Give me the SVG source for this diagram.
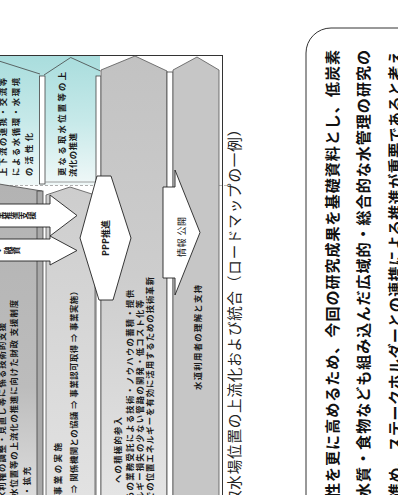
<svg xmlns="http://www.w3.org/2000/svg" width="398" height="495" viewBox="0 0 398 495">
<defs>
<linearGradient id="gTeal" gradientUnits="userSpaceOnUse" x1="0" y1="56" x2="0" y2="185">
<stop offset="0" stop-color="#a9dddd"/>
<stop offset="0.5" stop-color="#c6e9e9"/>
<stop offset="1" stop-color="#f0f8f8"/>
</linearGradient>
<linearGradient id="gCol1" gradientUnits="userSpaceOnUse" x1="0" y1="185" x2="0" y2="495">
<stop offset="0" stop-color="#b3b3b3"/>
<stop offset="0.65" stop-color="#bcbcbc"/>
<stop offset="1" stop-color="#dcdcdc"/>
</linearGradient>
<linearGradient id="gCol2" gradientUnits="userSpaceOnUse" x1="0" y1="187" x2="0" y2="495">
<stop offset="0" stop-color="#cdcdcd"/>
<stop offset="1" stop-color="#e2e2e2"/>
</linearGradient>
<linearGradient id="gCol3" gradientUnits="userSpaceOnUse" x1="0" y1="56" x2="0" y2="495">
<stop offset="0" stop-color="#c2c2c2"/>
<stop offset="0.5" stop-color="#cdcdcd"/>
<stop offset="1" stop-color="#e4e4e4"/>
</linearGradient>
</defs>
<style>
.t{font-family:"Noto Sans CJK JP","Noto Sans CJK SC",sans-serif;font-weight:bold;font-size:8.3px;fill:#1a1a1a}
.v{font-family:"Noto Sans CJK JP","Noto Sans CJK SC",sans-serif;font-weight:bold;font-size:8px;fill:#1a1a1a;writing-mode:vertical-rl}
.title{font-family:"Noto Sans CJK JP","Noto Sans CJK SC",sans-serif;font-size:14.5px;fill:#222}
.para{font-family:"Noto Sans CJK JP","Noto Sans CJK SC",sans-serif;font-size:15px;font-weight:bold;fill:#111}
.ln{fill:none;stroke:#444;stroke-width:0.8}
.strip{fill:#fff;stroke:#444;stroke-width:0.8}
.blk{fill:#fff;stroke:#222;stroke-width:0.9}
</style>

<g id="frame">
<line x1="-1" y1="55.5" x2="223" y2="55.5" stroke="#333" stroke-width="1"/>
<line x1="222.5" y1="55" x2="222.5" y2="496" stroke="#333" stroke-width="1"/>
</g>

<g id="phase-upper">
<rect x="-1" y="56" width="101" height="129" fill="url(#gTeal)"/>
<polyline class="ln" points="-1,61 40,74"/>
<polyline class="ln" points="44,75 70.7,57.5 100.5,71"/>
<rect class="strip" x="39.5" y="76" width="5.5" height="108"/>
<line x1="45" y1="182" x2="96" y2="182" stroke="#888" stroke-width="0.8"/>
<line x1="0" y1="185.5" x2="97" y2="185.5" stroke="#999" stroke-width="0.8" stroke-dasharray="3,2"/>
<line x1="219" y1="185.5" x2="231" y2="185.5" stroke="#aaa" stroke-width="0.8" stroke-dasharray="3,2"/>
</g>

<g id="col-national">
<path d="M-1,184 L42,191 V496 H-1 Z" fill="url(#gCol1)"/>
<polyline class="ln" points="-1,184 42,191"/>
<rect x="37" y="191" width="6" height="305" fill="#a9a9a9" stroke="#444" stroke-width="0.8"/>
</g>

<g id="col-utility">
<path d="M46,195 L70,187 L95,195 V496 H46 Z" fill="url(#gCol2)" stroke="#555" stroke-width="0.8"/>
<rect class="strip" x="96" y="76" width="5" height="420"/>
</g>

<g id="col-private">
<path d="M101,70 L135,56 L167,71 V496 H101 Z" fill="url(#gCol3)" stroke="#555" stroke-width="0.8"/>
<rect class="strip" x="167" y="72" width="6" height="424"/>
</g>

<g id="col-users">
<path d="M173,70 L197,57 L219,70 V496 H173 Z" fill="#c6c6c6" stroke="#555" stroke-width="0.8"/>
</g>

<g id="connectors">
<path class="blk" d="M-2,204 H50 V195 L77,215.5 L50,236 V227 H-2 Z"/>
<path class="blk" d="M-2,239 H50 V236 L77,250.5 L50,265 V261 H-2 Z"/>
<path class="blk" d="M97,176 H111 L131,238 L113,300 H99 L80,238 Z"/>
<path class="blk" d="M163,187 H175 V170 L200,232.5 L175,295 V278 H163 Z"/>
</g>

<g id="labels-upper">
<text class="t" transform="translate(6,176) rotate(-90)" textLength="98">上下流の連携・交流等</text>
<text class="t" transform="translate(19,176) rotate(-90)" textLength="98">による水循環・水環境</text>
<text class="t" transform="translate(31.5,176) rotate(-90)" textLength="43">の活性化</text>
<text class="t" transform="translate(64.5,176) rotate(-90)" textLength="104">更なる取水位置等の上</text>
<text class="t" transform="translate(76,177) rotate(-90)" textLength="44">流化の推進</text>
</g>

<g id="labels-national">
<text class="t" transform="translate(5,500) rotate(-90)" textLength="177">水利権の調整・見直し等に係る技術的支援</text>
<text class="t" transform="translate(16.5,506) rotate(-90)" textLength="206">取水位置等の上流化の推進に向けた財政 支援制度</text>
<text class="t" transform="translate(30,515) rotate(-90)" textLength="48">創設・拡充</text>
</g>

<g id="labels-utility">
<text class="t" transform="translate(60.5,495) rotate(-90)" textLength="52" style="font-size:8.5px">事業の実施</text>
<text class="t" transform="translate(77,493) rotate(-90)" textLength="206">⇒ 関係機関との協議 ⇒ 事業認可取得 ⇒ 事業実施）</text>
</g>

<g id="labels-private">
<text class="t" transform="translate(121,483) rotate(-90)" textLength="66">への積極的参入</text>
<text class="t" transform="translate(132.5,500) rotate(-90)" textLength="210">らの業務受託による技術・ノウハウの蓄積・提供</text>
<text class="t" transform="translate(143,500) rotate(-90)" textLength="200">ルギー損失の少ない管路の開発・低コスト化等</text>
<text class="t" transform="translate(153,500) rotate(-90)" textLength="223">での位置エネルギーを有効に活用するための技術革新</text>
</g>

<g id="labels-users">
<text class="t" transform="translate(201,390) rotate(-90)" textLength="105">水道利用者の理解と支持</text>
</g>

<g id="arrow-labels">
<text class="v" transform="translate(-12,215.5) rotate(-90)" x="0" y="0">事業推進支援</text>
<text class="v" transform="translate(-20,250.5) rotate(-90)" x="0" y="0">補助・融資</text>
<text class="t" transform="translate(108.5,238) rotate(-90)" text-anchor="middle" style="font-size:9px">PPP推進</text>
<text class="t" transform="translate(184.5,237) rotate(-90)" text-anchor="middle" style="font-weight:normal;font-size:9px" textLength="40">情報 公開</text>
</g>

<g id="caption">
<text class="title" transform="translate(239.5,505) rotate(-90)" textLength="383">取水場位置の上流化および統合（ロードマップの一例）</text>
</g>

<g id="note-box">
<path d="M306,496 V53 A25,25 0 0 1 331,28 H400" fill="none" stroke="#333" stroke-width="1"/>
<text class="para" transform="translate(338.2,498) rotate(-90)" textLength="448">性を更に高めるため、今回の研究成果を基礎資料とし、低炭素</text>
<text class="para" transform="translate(369.2,498) rotate(-90)" textLength="448">水質・食物なども組み込んだ広域的・総合的な水管理の研究の</text>
<text class="para" transform="translate(400.7,498) rotate(-90)" textLength="448">進め、ステークホルダーとの連携による推進が重要であると考え</text>
</g>
</svg>
